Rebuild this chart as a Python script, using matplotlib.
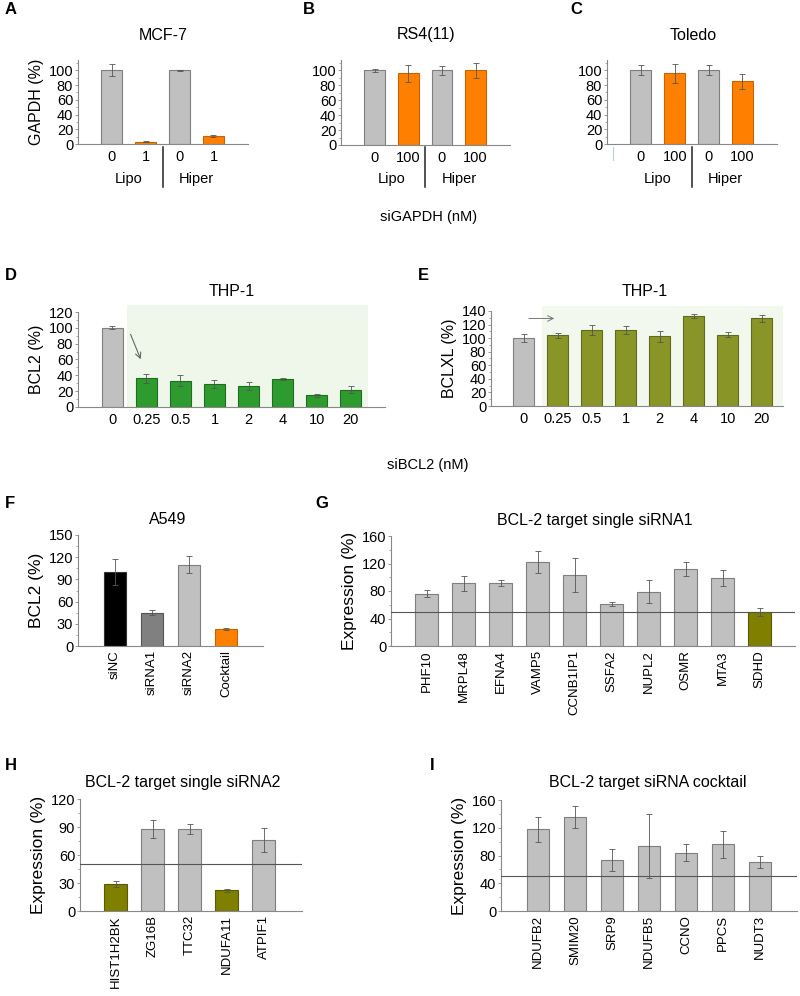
"""
Multi-panel siRNA knockdown figure (panels A-I).
"""
import matplotlib
matplotlib.use("Agg")
import matplotlib.pyplot as plt
from matplotlib.ticker import MultipleLocator
from matplotlib.transforms import blended_transform_factory

plt.rcParams['font.family'] = ['Liberation Sans', 'DejaVu Sans']

W, H = 800, 996

GRAY = '#c0c0c0'
ORANGE = '#ff8000'
GREEN = '#2e9b2e'
OLIVE = '#8a9528'
DARK_OLIVE = '#7f7f00'
EDGE = '#7f7f7f'

# --- data -------------------------------------------------------------
gapdh_ticks = ['0', '1', '0', '1']
gapdh_ticks_100 = ['0', '100', '0', '100']
gapdh_groups = ['Lipo', 'Hiper']

mcf7_vals = [100, 3, 100, 11]
mcf7_err = [8, 0.5, 1, 1]
rs4_vals = [100, 96, 100, 100]
rs4_err = [2, 11, 6, 10]
toledo_vals = [100, 96, 100, 85]
toledo_err = [7, 13, 7, 10]

bcl2_doses = ['0', '0.25', '0.5', '1', '2', '4', '10', '20']
thp1_bcl2 = [100, 36, 33, 29, 27, 35, 15, 22]
thp1_bcl2_err = [2, 6, 7, 5, 5, 1, 2, 4]
thp1_bclxl = [100, 104, 112, 112, 103, 133, 105, 129]
thp1_bclxl_err = [6, 4, 8, 6, 8, 3, 4, 5]

a549_labels = ['siNC', 'siRNA1', 'siRNA2', 'Cocktail']
a549_vals = [100, 45, 110, 23]
a549_err = [18, 3, 11, 2]

single1_genes = ['PHF10', 'MRPL48', 'EFNA4', 'VAMP5', 'CCNB1IP1',
                 'SSFA2', 'NUPL2', 'OSMR', 'MTA3', 'SDHD']
single1_vals = [76, 91, 92, 122, 103, 61, 79, 112, 99, 50]
single1_err = [5, 11, 4, 16, 25, 3, 17, 10, 12, 6]

single2_genes = ['HIST1H2BK', 'ZG16B', 'TTC32', 'NDUFA11', 'ATPIF1']
single2_vals = [29, 88, 88, 22, 76]
single2_err = [3, 10, 5, 2, 13]

cocktail_genes = ['NDUFB2', 'SMIM20', 'SRP9', 'NDUFB5', 'CCNO', 'PPCS', 'NUDT3']
cocktail_vals = [118, 135, 74, 94, 84, 96, 71]
cocktail_err = [18, 16, 16, 46, 12, 19, 9]

threshold = 50


fig = plt.figure(figsize=(W / 100, H / 100), dpi=100)


def px_axes(x0, ytop, x1, ybot):
    """Add axes from pixel box (top-left origin)."""
    return fig.add_axes([x0 / W, 1 - ybot / H, (x1 - x0) / W, (ybot - ytop) / H])


def style(ax, ymax, major, ylabel=None, ylabel_size=11.5):
    for s in ['top', 'right']:
        ax.spines[s].set_visible(False)
    ax.spines['left'].set_color('#888888')
    ax.spines['bottom'].set_color('#888888')
    ax.set_ylim(0, ymax)
    ax.yaxis.set_major_locator(MultipleLocator(major))
    ax.yaxis.set_minor_locator(MultipleLocator(major / 2))
    ax.tick_params(axis='y', which='major', length=2.5, width=0.6, color='#888888',
                   labelsize=10.5, pad=1)
    ax.tick_params(axis='y', which='minor', length=1.5, width=0.5, color='#888888')
    ax.tick_params(axis='x', length=0, labelsize=10.5, pad=4)
    if ylabel:
        ax.set_ylabel(ylabel, fontsize=ylabel_size, labelpad=3)


def gene_ticks(ax, labels):
    ax.set_xticks(range(len(labels)))
    ax.set_xticklabels(labels, rotation=90)
    ax.tick_params(axis='x', labelsize=9.5, pad=3)


def bars(ax, vals, errs, colors, edges, width=0.62):
    x = range(len(vals))
    ax.bar(x, vals, width=width, color=colors, edgecolor=edges, linewidth=0.8, zorder=2)
    ax.errorbar(x, vals, yerr=errs, fmt='none', ecolor='#555555', elinewidth=0.6,
                capsize=2, capthick=0.6, zorder=3)


def panel_letter(x, y, s):
    fig.text(x / W, 1 - y / H, s, fontsize=12, fontweight='bold', va='center', ha='left')


def title(x, y, s, size=11.5):
    fig.text(x / W, 1 - y / H, s, fontsize=size, va='center', ha='center')


# --- A, B, C: siGAPDH -------------------------------------------------
gapdh_panels = [
    ((78, 60, 248, 144), mcf7_vals, mcf7_err, gapdh_ticks, 'MCF-7', 163, 'GAPDH (%)'),
    ((341, 60, 510, 145), rs4_vals, rs4_err, gapdh_ticks_100, 'RS4(11)', 426, None),
    ((607, 60, 777, 144), toledo_vals, toledo_err, gapdh_ticks_100, 'Toledo', 693, None),
]
for box, vals, errs, ticks, name, tx, ylab in gapdh_panels:
    ax = px_axes(*box)
    bars(ax, vals, errs, [GRAY, ORANGE, GRAY, ORANGE],
         [EDGE, '#c86400', EDGE, '#c86400'])
    ax.set_xlim(-1.0, 4.02)
    style(ax, 114, 20, ylab, 11.5)
    ax.set_xticks(range(4))
    ax.set_xticklabels(ticks)
    tr = blended_transform_factory(ax.transData, fig.transFigure)
    ax.plot([1.5, 1.5], [1 - 147 / H, 1 - 187 / H], color='#222222', lw=1.1,
            transform=tr, clip_on=False)
    for gx, g in zip([0.5, 2.5], gapdh_groups):
        ax.text(gx, 1 - 179 / H, g, transform=tr, ha='center', va='center', fontsize=10.5)
    title(tx, 35, name)

# faint stray mark left of Toledo axis
fig.add_artist(plt.Line2D([613 / W, 613 / W], [1 - 147 / H, 1 - 160 / H],
                          color='#b8cfe0', lw=0.8))

panel_letter(5, 10, 'A')
panel_letter(303, 10, 'B')
panel_letter(570, 10, 'C')
title(429, 217, 'siGAPDH (nM)', 10.5)

# --- D: THP-1 BCL2 ----------------------------------------------------
ax = px_axes(78, 312, 385, 407)
ax.bar([3.97], [129], width=7.08, color='#eef7ea', zorder=0, clip_on=False)
bars(ax, thp1_bcl2, thp1_bcl2_err, [GRAY] + [GREEN] * 7, [EDGE] + ['#1f6e1f'] * 7)
ax.set_xlim(-1.0, 8.0)
style(ax, 120, 20, 'BCL2 (%)', 11.5)
ax.set_xticks(range(8))
ax.set_xticklabels(bcl2_doses)
ax.annotate('', xy=(0.87, 57), xytext=(0.51, 95),
            arrowprops=dict(arrowstyle='->', color='#666666', lw=0.8))
title(232, 292, 'THP-1')
panel_letter(5, 275, 'D')

# --- E: THP-1 BCLXL ---------------------------------------------------
ax = px_axes(491, 311, 783, 406)
ax.bar([4.08], [147], width=7.08, color='#f3f8ef', zorder=0, clip_on=False)
bars(ax, thp1_bclxl, thp1_bclxl_err, [GRAY] + [OLIVE] * 7, [EDGE] + ['#5f6a1a'] * 7)
ax.set_xlim(-0.96, 7.62)
style(ax, 140, 20, 'BCLXL (%)', 11.5)
ax.set_xticks(range(8))
ax.set_xticklabels(bcl2_doses)
ax.annotate('', xy=(0.98, 129), xytext=(0.07, 129),
            arrowprops=dict(arrowstyle='->', color='#777777', lw=0.7), annotation_clip=False)
title(645, 292, 'THP-1')
panel_letter(418, 275, 'E')

title(428, 465, 'siBCL2 (nM)', 10.5)

# --- F: A549 ----------------------------------------------------------
ax = px_axes(78, 535, 263, 646)
bars(ax, a549_vals, a549_err, ['#000000', '#808080', '#c0c0c0', ORANGE],
     ['#333333', '#555555', EDGE, '#c86400'])
ax.set_xlim(-1.0, 4.0)
style(ax, 150, 30, 'BCL2 (%)', 12.5)
gene_ticks(ax, a549_labels)
title(168, 519, 'A549')
panel_letter(5, 503, 'F')

# --- G: single siRNA1 -------------------------------------------------
ax = px_axes(391, 536, 795, 646)
bars(ax, single1_vals, single1_err, [GRAY] * 9 + [DARK_OLIVE], [EDGE] * 9 + ['#5a5a00'])
ax.axhline(threshold, color='#555555', lw=0.8, zorder=4)
ax.set_xlim(-0.97, 9.95)
style(ax, 160, 40, 'Expression (%)', 12.5)
gene_ticks(ax, single1_genes)
title(595, 520, 'BCL-2 target single siRNA1')
panel_letter(315, 503, 'G')

# --- H: single siRNA2 -------------------------------------------------
ax = px_axes(80, 799, 302, 911)
bars(ax, single2_vals, single2_err, [DARK_OLIVE, GRAY, GRAY, DARK_OLIVE, GRAY],
     ['#5a5a00', EDGE, EDGE, '#5a5a00', EDGE])
ax.axhline(threshold, color='#555555', lw=0.8, zorder=4)
ax.set_xlim(-0.96, 5.04)
style(ax, 120, 30, 'Expression (%)', 12.5)
gene_ticks(ax, single2_genes)
title(183, 782, 'BCL-2 target single siRNA2')
panel_letter(5, 765, 'H')

# --- I: siRNA cocktail ------------------------------------------------
ax = px_axes(501, 800, 797, 911)
bars(ax, cocktail_vals, cocktail_err, [GRAY] * 7, [EDGE] * 7)
ax.axhline(threshold, color='#555555', lw=0.8, zorder=4)
ax.set_xlim(-1.0, 7.0)
style(ax, 160, 40, 'Expression (%)', 12.5)
gene_ticks(ax, cocktail_genes)
title(648, 782, 'BCL-2 target siRNA cocktail')
panel_letter(430, 765, 'I')

fig.savefig('out.png', dpi=100)
